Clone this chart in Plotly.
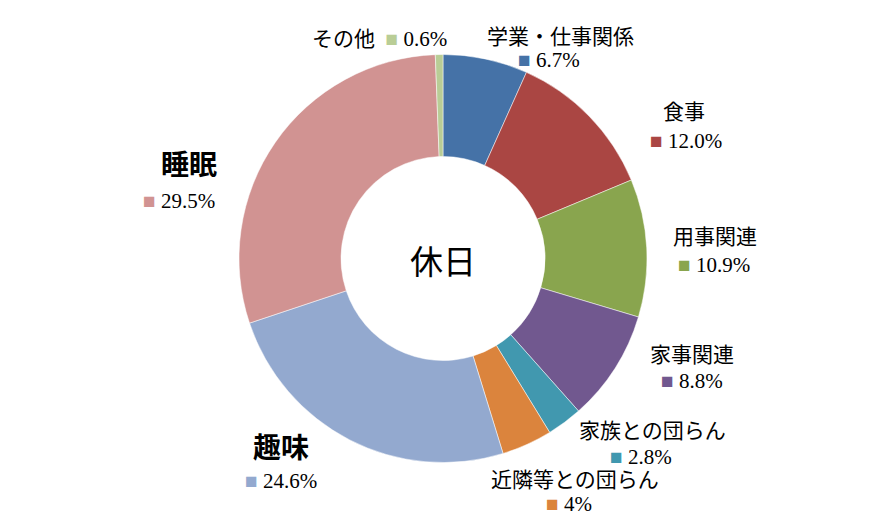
import plotly.graph_objects as go

# 休日の時間の使い方 (%)
labels = ['学業・仕事関係', '食事', '用事関連', '家事関連', '家族との団らん',
          '近隣等との団らん', '趣味', '睡眠', 'その他']
values = [6.7, 12.0, 10.9, 8.8, 2.8, 4, 24.6, 29.5, 0.6]
value_text = ['6.7%', '12.0%', '10.9%', '8.8%', '2.8%', '4%', '24.6%', '29.5%', '0.6%']
colors = ['#4572A7', '#AA4643', '#89A54E', '#71588F', '#4198AF',
          '#DB843D', '#93A9CF', '#D19392', '#B9CD96']

W, H = 886, 517
OFF = 8  # page body margin

# label placement (pixel centres: name line, value line)
name_pos = [(560, 37), (684, 112), (715, 237), (692, 355), (652, 431),
            (575, 480), (281, 446), (189, 163), None]
value_pos = [(549, 60), (686, 141), (714, 265), (692, 381), (641, 457),
             (569, 504), (281, 481), (179, 201), (379, 39)]
bold = ['趣味', '睡眠']


def px(x, y):
    return (x - OFF) / W, 1 - (y - OFF) / H


jp = 'Liberation Serif, Noto Sans CJK JP'
cx, cy, r = 443, 258.5, 204
fig = go.Figure(go.Pie(
    labels=labels, values=values, sort=False, direction='clockwise',
    rotation=0, hole=0.5, textinfo='none', hoverinfo='label+percent',
    marker=dict(colors=colors, line=dict(color='white', width=0.5)),
    domain=dict(x=[px(cx - r, 0)[0], px(cx + r, 0)[0]],
                y=[px(0, cy + r)[1], px(0, cy - r)[1]]),
    showlegend=False))


def add(ann, pos, text, font):
    x, y = px(*pos)
    ann.append(dict(x=x, y=y, xref='paper', yref='paper', xanchor='center',
                    yanchor='middle', text=text, showarrow=False, font=font))


ann = []
for lab, vt, col, npos, vpos in zip(labels, value_text, colors, name_pos, value_pos):
    sq = f'<span style="color:{col};font-size:21px">■</span>\u00a0'
    if npos is None:
        # その他 on one line
        add(ann, vpos, f'{lab}\u00a0\u00a0{sq}{vt}', dict(family=jp, size=21, color='#000'))
        continue
    if lab in bold:
        nfont = dict(family='Noto Sans CJK JP', size=28, color='#000', weight='bold')
    else:
        nfont = dict(family=jp, size=21, color='#000')
    add(ann, npos, lab, nfont)
    add(ann, vpos, sq + vt, dict(family=jp, size=21, color='#000'))

add(ann, (443, 260), '休日', dict(family='Noto Sans CJK JP', size=33, color='#000'))

fig.update_layout(width=W, height=H, margin=dict(l=0, r=0, t=0, b=0),
                  paper_bgcolor='white', plot_bgcolor='white', annotations=ann)

fig.write_html('out.html')
